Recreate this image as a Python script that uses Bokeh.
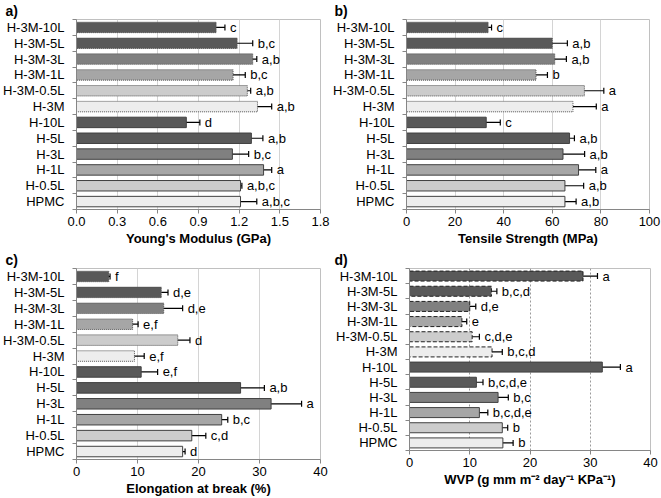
from bokeh.plotting import figure
from bokeh.models import (ColumnDataSource, Range1d, FixedTicker, Whisker, TeeHead)
from bokeh.layouts import column, row
from bokeh.core.properties import value
from bokeh.embed import file_html
from bokeh.resources import INLINE

# ---------------- data (top to bottom as in the chart) ----------------
categories = ["H-3M-10L", "H-3M-5L", "H-3M-3L", "H-3M-1L", "H-3M-0.5L", "H-3M",
              "H-10L", "H-5L", "H-3L", "H-1L", "H-0.5L", "HPMC"]
dashed = [True, True, True, True, True, True,
          False, False, False, False, False, False]
fills = ["#595959", "#595959", "#808080", "#a6a6a6", "#cccccc", "#ededed",
         "#595959", "#595959", "#808080", "#a6a6a6", "#cccccc", "#ededed"]

# a) Young's modulus (GPa)
ym_val = [1.03, 1.185, 1.30, 1.155, 1.26, 1.335, 0.81, 1.29, 1.15, 1.38, 1.21, 1.21]
ym_err = [0.065, 0.115, 0.03, 0.09, 0.025, 0.105, 0.10, 0.085, 0.12, 0.06, 0.01, 0.12]
ym_let = ["c", "b,c", "a,b", "b,c", "a,b", "a,b", "d", "a,b", "b,c", "a", "a,b,c", "a,b,c"]
ym_ticks = [0.0, 0.3, 0.6, 0.9, 1.2, 1.5, 1.8]
ym_tick_labels = ["0.0", "0.3", "0.6", "0.9", "1.2", "1.5", "1.8"]

# b) Tensile strength (MPa)
ts_val = [33.6, 60.0, 61.0, 53.3, 73.2, 68.5, 32.8, 67.1, 64.4, 70.8, 65.2, 65.2]
ts_err = [1.4, 6.2, 4.8, 4.7, 8.0, 9.6, 5.8, 2.0, 8.9, 7.1, 7.7, 4.6]
ts_let = ["c", "a,b", "a,b", "b", "a", "a", "c", "a,b", "a,b", "a", "a,b", "a,b"]
ts_ticks = [0, 20, 40, 60, 80, 100]
ts_tick_labels = ["0", "20", "40", "60", "80", "100"]

# c) Elongation at break (%)
eb_val = [5.3, 13.9, 14.3, 9.2, 16.6, 9.5, 10.6, 26.9, 31.9, 23.8, 18.9, 17.4]
eb_err = [0.2, 1.1, 3.1, 0.9, 2.0, 1.6, 2.7, 3.9, 5.0, 1.0, 2.3, 0.4]
eb_let = ["f", "d,e", "d,e", "e,f", "d", "e,f", "e,f", "a,b", "a", "b,c", "c,d", "d"]
eb_ticks = [0, 10, 20, 30, 40]
eb_tick_labels = ["0", "10", "20", "30", "40"]

# d) WVP (g mm m-2 day-1 KPa-1)
wvp_val = [28.8, 13.6, 10.0, 8.7, 10.4, 13.7, 32.0, 11.1, 14.7, 11.6, 15.4, 15.5]
wvp_err = [2.4, 0.9, 1.0, 0.8, 1.2, 1.7, 3.0, 1.1, 1.7, 1.4, 0.9, 1.7]
wvp_let = ["a", "b,c,d", "d,e", "e", "c,d,e", "b,c,d", "a", "b,c,d,e", "b,c",
           "b,c,d,e", "b", "b"]
wvp_ticks = [0, 10, 20, 30, 40]
wvp_tick_labels = ["0", "10", "20", "30", "40"]

FONT = "Liberation Sans"
AXIS_GRAY = "#868686"


def panel(tag, vals, errs, letters, ticks, tick_labels, xlabel,
          width, height, borders, grid_dash, bar_dash, bar_dash_color):
    n = len(categories)
    ypos = [n - 1 - i for i in range(n)]
    left_b, right_b, top_b, bottom_b = borders
    p = figure(width=width, height=height, output_backend="svg",
               toolbar_location=None,
               x_range=Range1d(ticks[0], ticks[-1]),
               y_range=Range1d(-0.5, n - 0.5),
               min_border_left=left_b, min_border_right=right_b,
               min_border_top=top_b, min_border_bottom=bottom_b)
    p.background_fill_color = "white"
    p.border_fill_color = "white"
    p.outline_line_color = "#c0c0c0"
    p.outline_line_width = 1

    # grid
    p.ygrid.visible = False
    p.xgrid.grid_line_color = "#d4d4d4" if grid_dash == "solid" else "#9a9a9a"
    p.xgrid.grid_line_dash = grid_dash
    p.xgrid.grid_line_width = 1

    # x axis
    xa = p.xaxis[0]
    xa.ticker = FixedTicker(ticks=ticks)
    xa.major_label_overrides = {t: l for t, l in zip(ticks, tick_labels)}
    xa.axis_label = xlabel
    xa.axis_label_text_font = FONT
    xa.axis_label_text_font_style = "bold"
    xa.axis_label_text_font_size = "13px"
    xa.axis_label_text_color = "black"
    xa.axis_label_standoff = 2
    xa.major_label_text_font = FONT
    xa.major_label_text_font_size = "13px"
    xa.major_label_text_color = "black"
    xa.major_label_standoff = 3
    xa.axis_line_color = AXIS_GRAY
    xa.major_tick_line_color = AXIS_GRAY
    xa.major_tick_out = 4
    xa.major_tick_in = 0
    xa.minor_tick_line_color = None

    # y axis: labels at centres, tick marks at category boundaries
    ya = p.yaxis[0]
    ya.ticker = FixedTicker(ticks=ypos,
                            minor_ticks=[k - 0.5 for k in range(n + 1)])
    ya.major_label_overrides = {y: c for y, c in zip(ypos, categories)}
    ya.major_label_text_font = FONT
    ya.major_label_text_font_size = "13px"
    ya.major_label_text_color = "black"
    ya.major_label_standoff = 8
    ya.axis_line_color = AXIS_GRAY
    ya.major_tick_out = 0
    ya.major_tick_in = 0
    ya.major_tick_line_color = None
    ya.minor_tick_line_color = AXIS_GRAY
    ya.minor_tick_out = 4
    ya.minor_tick_in = 0

    lo = [v - e for v, e in zip(vals, errs)]
    hi = [v + e for v, e in zip(vals, errs)]
    src = ColumnDataSource(dict(y=ypos, v=vals, lo=lo, hi=hi, let=letters,
                                fill=fills, dashed=dashed))

    solid_idx = [i for i in range(n) if not dashed[i]]
    dash_idx = [i for i in range(n) if dashed[i]]

    def sub(idx):
        return ColumnDataSource(dict(y=[ypos[i] for i in idx],
                                     v=[vals[i] for i in idx],
                                     fill=[fills[i] for i in idx]))

    p.hbar(y="y", left=0, right="v", height=0.66, source=sub(solid_idx),
           fill_color="fill", line_color="#404040", line_width=1)
    p.hbar(y="y", left=0, right="v", height=0.66, source=sub(dash_idx),
           fill_color="fill", line_color=bar_dash_color, line_width=1,
           line_dash=bar_dash)

    w = Whisker(source=src, base="y", lower="lo", upper="hi",
                dimension="width", line_color="black", line_width=1.2,
                lower_head=TeeHead(size=6, line_color="black", line_width=1.2),
                upper_head=TeeHead(size=6, line_color="black", line_width=1.2))
    p.add_layout(w)

    p.text(x="hi", y="y", text="let", source=src, x_offset=5,
           text_align="left", text_baseline="middle",
           text_font=value(FONT), text_font_size="13px", text_color="black")

    p.title.text = tag
    p.title.align = "left"
    p.title.offset = -(left_b - 4)
    p.title.text_font = FONT
    p.title.text_font_size = "14px"
    p.title.text_font_style = "bold"
    p.title.text_color = "black"
    p.title.standoff = 1
    return p


pa = panel("a)", ym_val, ym_err, ym_let, ym_ticks, ym_tick_labels,
           "Young's Modulus (GPa)", 330, 249, (75, 10, 17, 40),
           "solid", "1 1", "#505050")
pb = panel("b)", ts_val, ts_err, ts_let, ts_ticks, ts_tick_labels,
           "Tensile Strength (MPa)", 331, 249, (76, 12, 17, 40),
           "solid", "1 1", "#505050")
pc = panel("c)", eb_val, eb_err, eb_let, eb_ticks, eb_tick_labels,
           "Elongation at break (%)", 330, 249, (75, 10, 16, 39),
           "solid", "1 1", "#505050")
pd = panel("d)", wvp_val, wvp_err, wvp_let, wvp_ticks, wvp_tick_labels,
           "WVP (g mm m\u207b\u00b2 day\u207b\u00b9 KPa\u207b\u00b9)",
           331, 240, (79, 11, 16, 39),
           "2 2", "4 2", "#202020")

layout = column(row(pa, pb), row(pc, pd))

open("out.html", "w").write(file_html(layout, INLINE))
